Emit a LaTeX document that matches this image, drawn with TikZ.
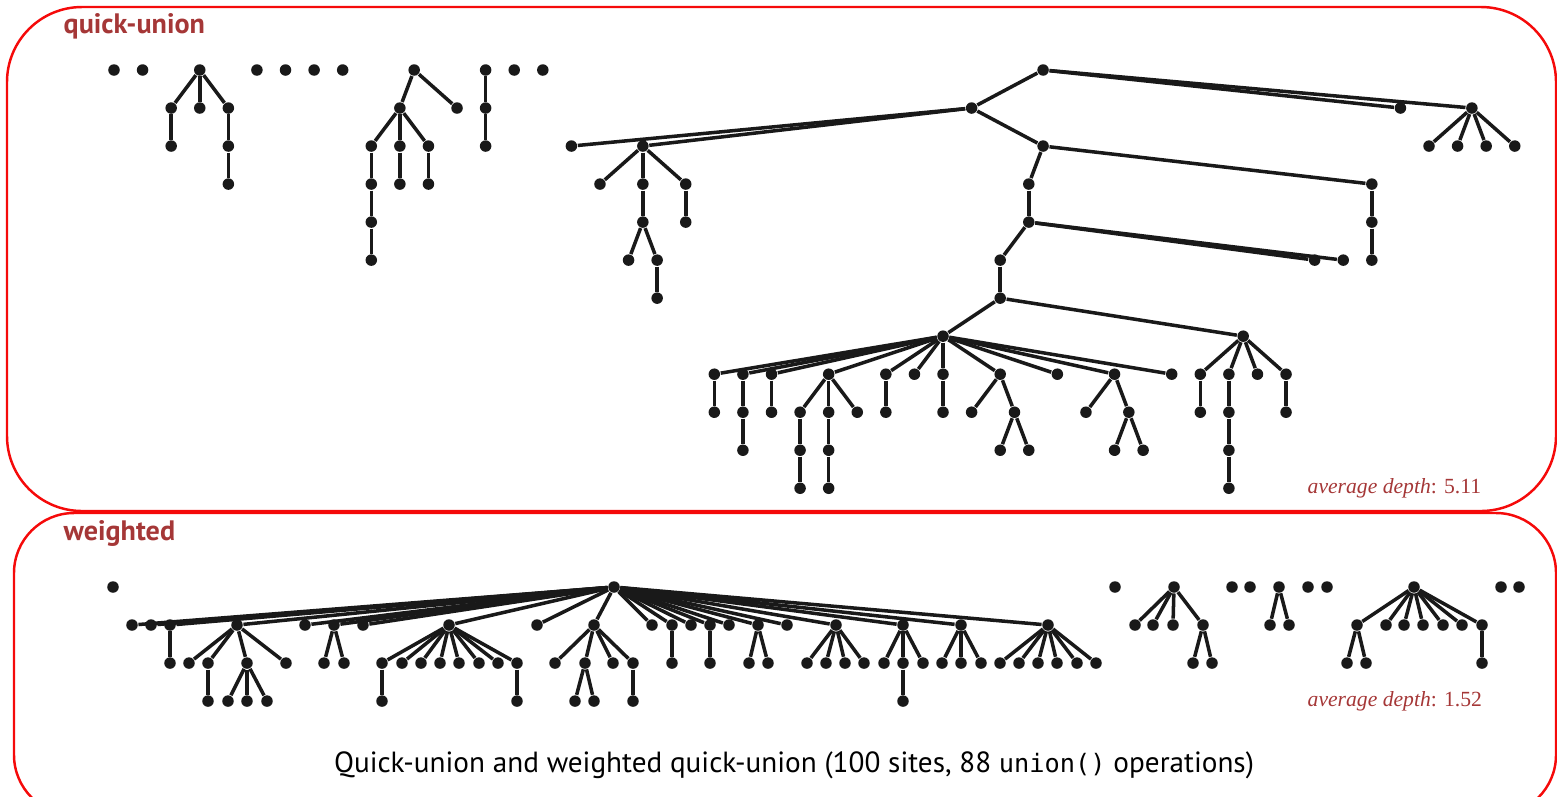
\documentclass[tikz,border=0pt]{standalone}
\usepackage{fontspec}
\usepackage{tikz}
\newfontfamily\titlefont{PT Sans}
\newfontfamily\notefont{Liberation Serif}
\newfontfamily\monofont{DejaVu Sans Mono}
\definecolor{framered}{RGB}{245,10,10}
\definecolor{titlered}{RGB}{165,55,55}
\definecolor{sitedark}{RGB}{25,25,25}
\tikzset{
  site/.style={circle, fill=sitedark, inner sep=0pt, minimum size=0.115cm},
  link/.style={line width=1pt, color=sitedark},
  frame/.style={draw=framered, line width=0.7pt},
  panelname/.style={text=titlered, font=\titlefont\bfseries\fontsize{8}{10}\selectfont, inner sep=0pt},
  depthnote/.style={text=titlered, font=\notefont\fontsize{6.15}{8}\selectfont, inner sep=0pt},
  captext/.style={text=black, font=\titlefont\fontsize{8.3}{10}\selectfont, inner sep=0pt}
}

\begin{document}
\begin{tikzpicture}[x=0.01cm, y=-0.01cm]
  \useasboundingbox (0,0) rectangle (1557,796);
  \clip (0,0) rectangle (1557,796);

  % Panel frames
  \draw[frame, rounded corners=0.75cm] (7,7) rectangle (1556,511);
  \draw[frame, rounded corners=0.6cm] (14,513) rectangle (1556,815);

  % Panel titles
  \node[panelname, anchor=base west] (qutitle) at (63,33) {quick-union};
  \node[panelname, anchor=base west] (wtitle) at (63,540) {weighted};

  % Quick-union forest (column = half site step, row = depth)
  \begin{scope}[shift={(114,70)}, x=0.142857cm, y=-0.38cm]
    \foreach \k/\r in {0/0, 2/0, 10/0, 12/0, 14/0, 16/0, 28/0, 30/0,
        6/0, 4/1, 6/1, 8/1, 4/2, 8/2, 8/3,
        21/0, 20/1, 24/1, 18/2, 20/2, 22/2, 18/3, 18/4, 18/5, 20/3, 22/3,
        26/0, 26/1, 26/2,
        65/0, 60/1, 90/1, 95/1, 92/2, 94/2, 96/2, 98/2,
        32/2, 37/2, 65/2, 34/3, 37/3, 40/3, 40/4, 37/4, 36/5, 38/5, 38/6,
        64/3, 88/3, 88/4, 88/5, 64/4, 84/5, 86/5, 62/5, 62/6, 58/7, 79/7,
        42/8, 44/8, 46/8, 50/8, 54/8, 56/8, 58/8, 62/8, 66/8, 70/8, 74/8,
        76/8, 78/8, 80/8, 82/8,
        42/9, 44/9, 44/10, 46/9, 48/9, 50/9, 52/9, 48/10, 48/11, 50/10, 50/11,
        54/9, 58/9, 60/9, 63/9, 62/10, 64/10, 68/9, 71/9, 70/10, 72/10,
        76/9, 78/9, 78/10, 78/11, 82/9}
      \node[site] (q\k-\r) at (\k,\r) {};
    \foreach \a/\b in {6-0/4-1, 6-0/6-1, 6-0/8-1, 4-1/4-2, 8-1/8-2, 8-2/8-3,
        21-0/20-1, 21-0/24-1, 20-1/18-2, 20-1/20-2, 20-1/22-2,
        18-2/18-3, 18-3/18-4, 18-4/18-5, 20-2/20-3, 22-2/22-3,
        26-0/26-1, 26-1/26-2,
        65-0/60-1, 65-0/90-1, 65-0/95-1,
        95-1/92-2, 95-1/94-2, 95-1/96-2, 95-1/98-2,
        60-1/32-2, 60-1/37-2, 60-1/65-2,
        37-2/34-3, 37-2/37-3, 37-2/40-3, 40-3/40-4,
        37-3/37-4, 37-4/36-5, 37-4/38-5, 38-5/38-6,
        65-2/64-3, 65-2/88-3, 88-3/88-4, 88-4/88-5, 64-3/64-4,
        64-4/84-5, 64-4/86-5, 64-4/62-5, 62-5/62-6, 62-6/58-7, 62-6/79-7,
        42-8/42-9, 44-8/44-9, 44-9/44-10, 46-8/46-9,
        50-8/48-9, 50-8/50-9, 50-8/52-9, 48-9/48-10, 48-10/48-11,
        50-9/50-10, 50-10/50-11, 54-8/54-9, 58-8/58-9,
        62-8/60-9, 62-8/63-9, 63-9/62-10, 63-9/64-10,
        70-8/68-9, 70-8/71-9, 71-9/70-10, 71-9/72-10,
        76-8/76-9, 78-8/78-9, 78-9/78-10, 78-10/78-11, 82-8/82-9}
      \draw[link] (q\a) -- (q\b);
    \foreach \c in {42, 44, 46, 50, 54, 56, 58, 62, 66, 70, 74}
      \draw[link] (q58-7) -- (q\c-8);
    \foreach \c in {76, 78, 80, 82}
      \draw[link] (q79-7) -- (q\c-8);
  \end{scope}

  \node[depthnote, anchor=base west] (qudepth) at (1307,493) {\textit{average depth}: 5.11};

  % Weighted quick-union forest (x in pixels, row = depth)
  \begin{scope}[shift={(0,587)}, y=-0.38cm]
    \foreach \x/\r in {113/0, 1115/0, 1232/0, 1250/0, 1308/0, 1327/0, 1501/0, 1519/0,
        1174/0, 1135/1, 1153/1, 1173/1, 1203/1, 1193/2, 1212/2,
        1279/0, 1270/1, 1289/1,
        1414/0, 1357/1, 1386/1, 1404/1, 1423/1, 1443/1, 1462/1, 1482/1,
        1347/2, 1366/2, 1482/2,
        614/0,
        132/1, 151/1, 170/1, 237/1, 305/1, 334/1, 363/1, 449/1, 537/1, 594/1,
        652/1, 672/1, 691/1, 710/1, 729/1, 758/1, 787/1, 836/1, 903/1, 961/1, 1048/1,
        170/2, 189/2, 208/2, 247/2, 286/2, 324/2, 344/2,
        382/2, 402/2, 421/2, 440/2, 459/2, 479/2, 498/2, 517/2,
        555/2, 585/2, 613/2, 633/2, 672/2, 710/2, 749/2, 768/2,
        807/2, 826/2, 845/2, 864/2, 884/2, 903/2, 923/2, 942/2, 961/2, 981/2,
        1000/2, 1019/2, 1038/2, 1057/2, 1077/2, 1096/2,
        208/3, 228/3, 247/3, 267/3, 382/3, 517/3, 575/3, 594/3, 633/3, 903/3}
      \node[site] (w\x-\r) at (\x,\r) {};
    \foreach \c in {132, 151, 170, 237, 305, 334, 363, 449, 537, 594,
        652, 672, 691, 710, 729, 758, 787, 836, 903, 961, 1048}
      \draw[link] (w614-0) -- (w\c-1);
    \foreach \c in {382, 402, 421, 440, 459, 479, 498, 517}
      \draw[link] (w449-1) -- (w\c-2);
    \foreach \c in {1000, 1019, 1038, 1057, 1077, 1096}
      \draw[link] (w1048-1) -- (w\c-2);
    \foreach \c in {1357, 1386, 1404, 1423, 1443, 1462, 1482}
      \draw[link] (w1414-0) -- (w\c-1);
    \foreach \a/\b in {170-1/170-2,
        237-1/189-2, 237-1/208-2, 237-1/247-2, 237-1/286-2,
        208-2/208-3, 247-2/228-3, 247-2/247-3, 247-2/267-3,
        334-1/324-2, 334-1/344-2, 382-2/382-3, 517-2/517-3,
        594-1/555-2, 594-1/585-2, 594-1/613-2, 594-1/633-2,
        585-2/575-3, 585-2/594-3, 633-2/633-3,
        672-1/672-2, 710-1/710-2, 758-1/749-2, 758-1/768-2,
        836-1/807-2, 836-1/826-2, 836-1/845-2, 836-1/864-2,
        903-1/884-2, 903-1/903-2, 903-1/923-2, 903-2/903-3,
        961-1/942-2, 961-1/961-2, 961-1/981-2,
        1174-0/1135-1, 1174-0/1153-1, 1174-0/1173-1, 1174-0/1203-1,
        1203-1/1193-2, 1203-1/1212-2,
        1279-0/1270-1, 1279-0/1289-1,
        1357-1/1347-2, 1357-1/1366-2, 1482-1/1482-2}
      \draw[link] (w\a) -- (w\b);
  \end{scope}

  \node[depthnote, anchor=base west] (wdepth) at (1307,706) {\textit{average depth}: 1.52};

  % Caption
  \node[captext, anchor=base] (caption) at (794,772)
    {Quick-union and weighted quick-union (100 sites, 88 {\monofont\fontsize{7.2}{9}\selectfont union()} operations)};
\end{tikzpicture}
\end{document}
